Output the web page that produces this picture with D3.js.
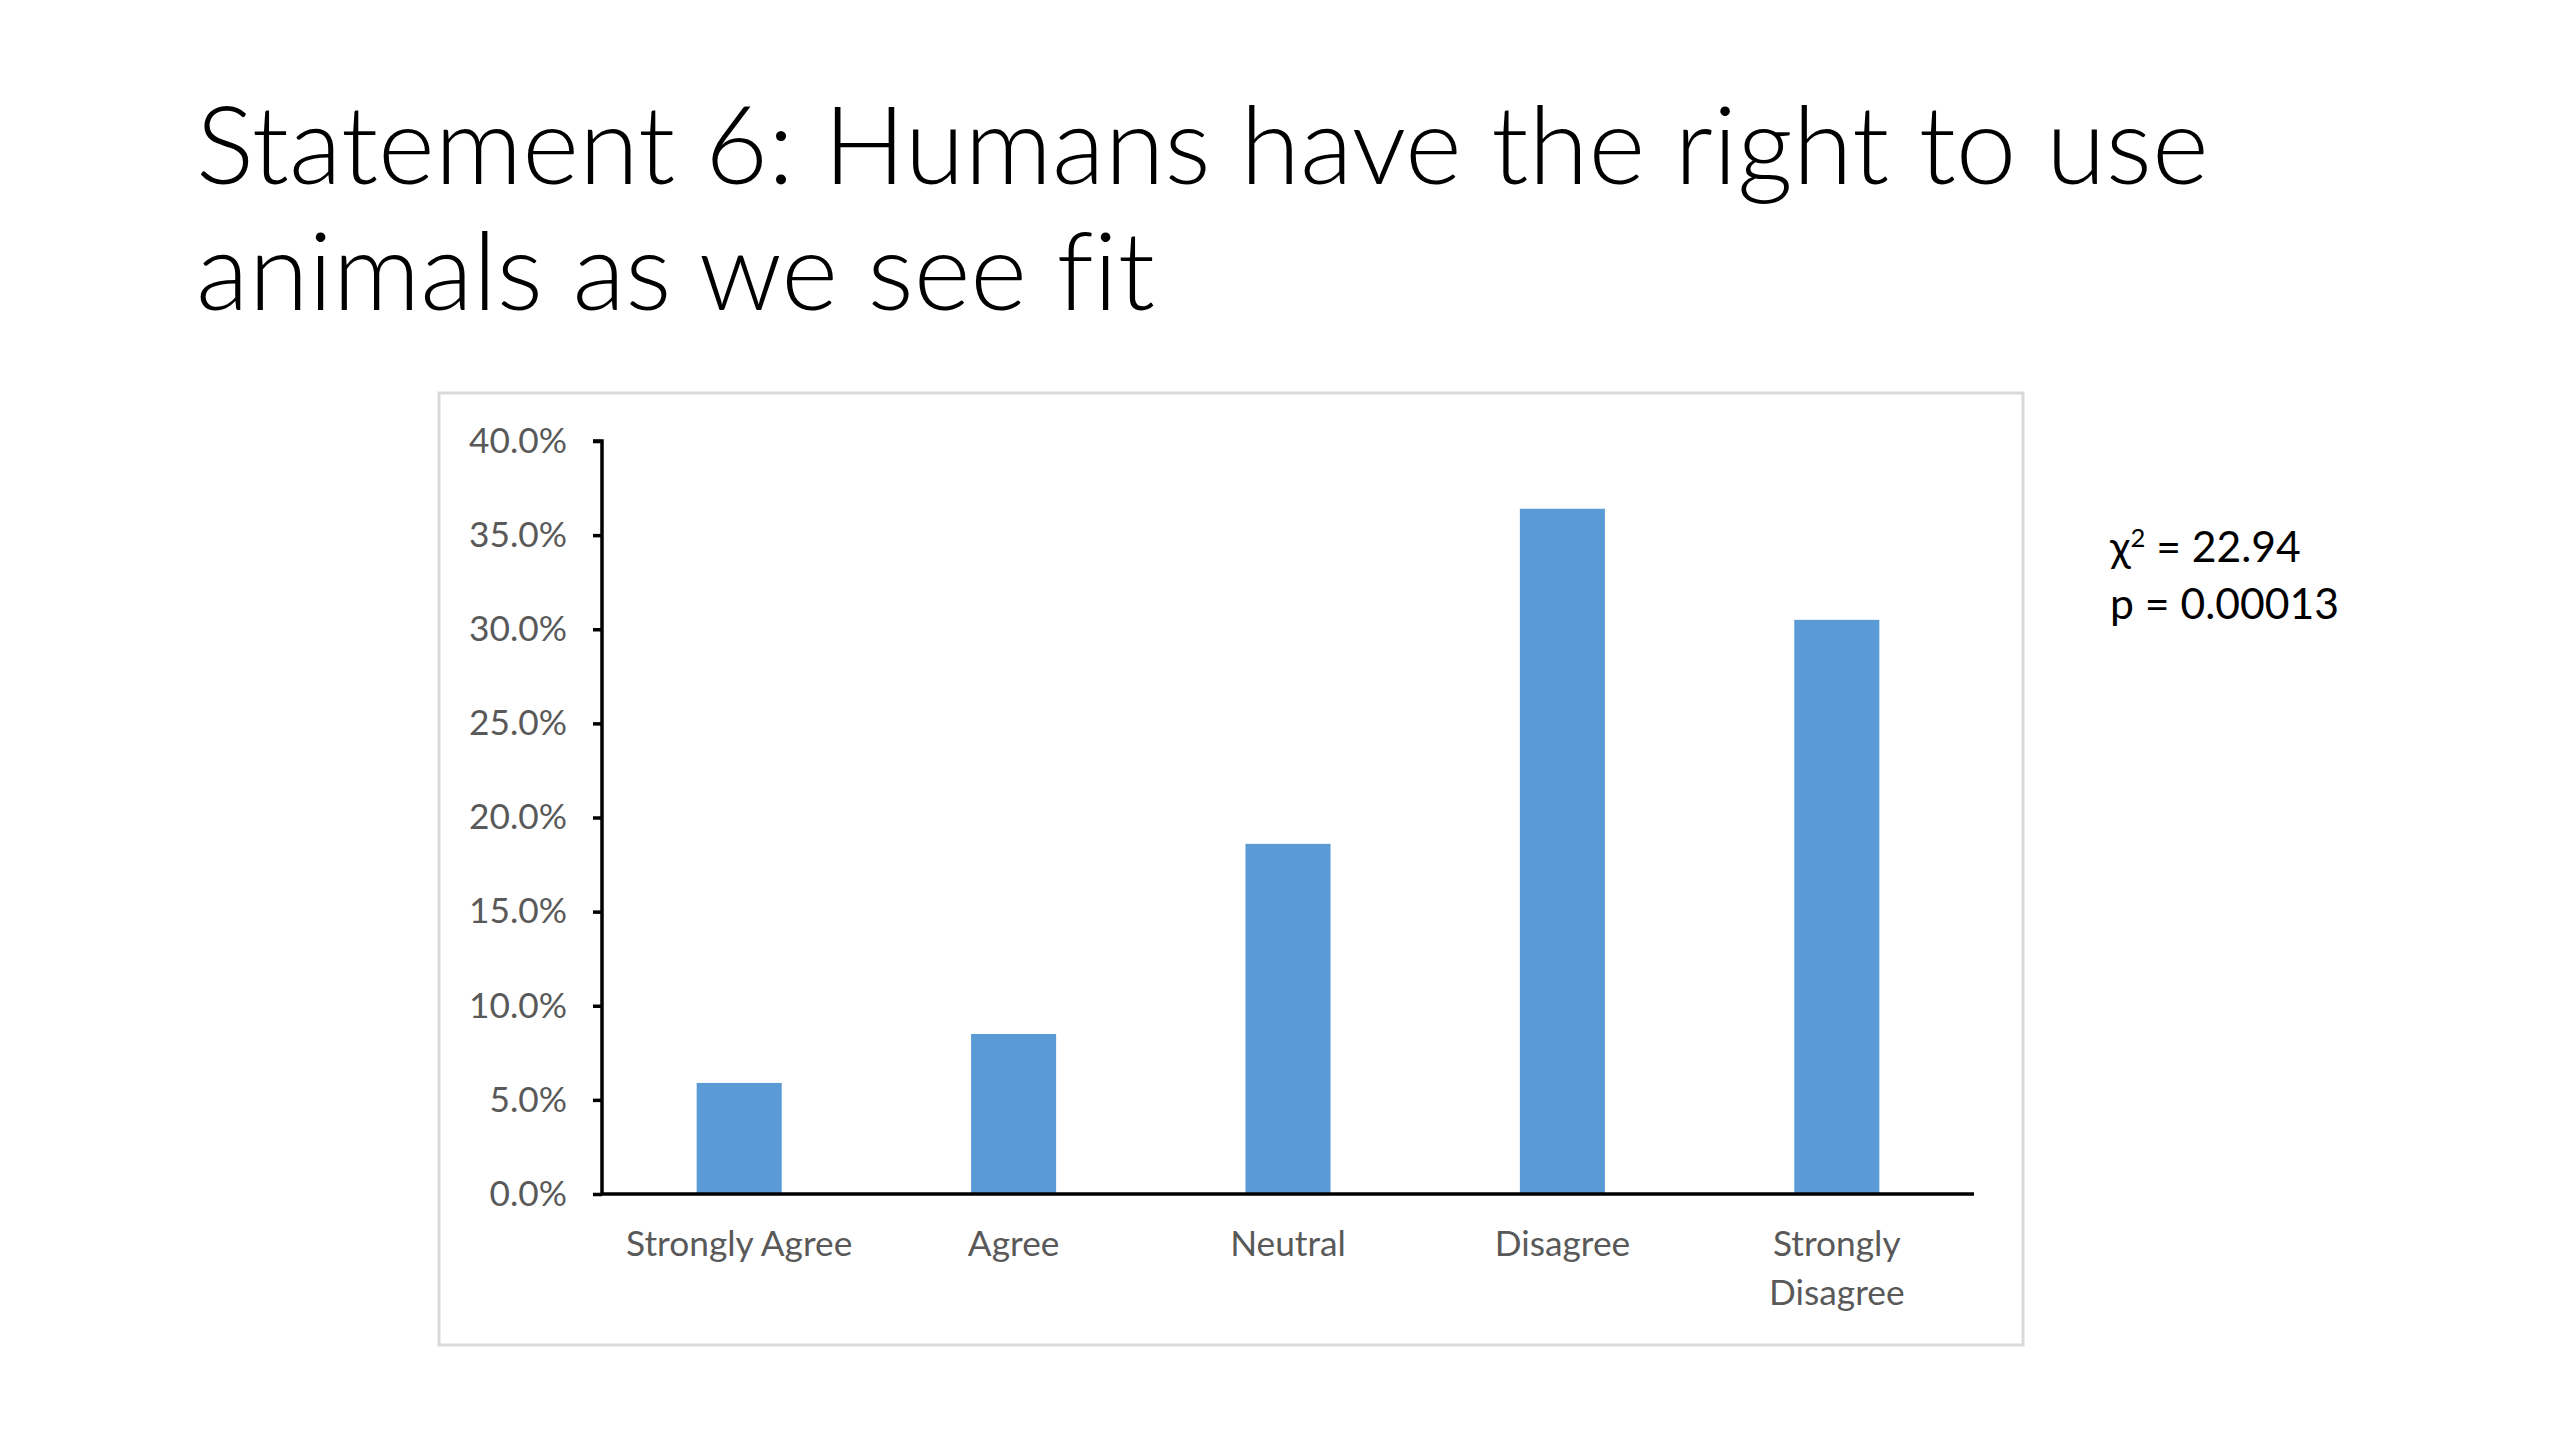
<!DOCTYPE html>
<html>
<head>
<meta charset="utf-8">
<script src="https://cdn.jsdelivr.net/npm/d3@7"></script>
<style>
  html, body { margin: 0; padding: 0; background: #ffffff; }
  svg { display: block; }
  text { font-variant-ligatures: none; font-feature-settings: "liga" 0; }
</style>
</head>
<body>
<script>
// ---- data ----
const titleLines = ["Statement 6: Humans have the right to use", "animals as we see fit"];
const categories = ["Strongly Agree", "Agree", "Neutral", "Disagree", "Strongly Disagree"];
const categoryLines = [["Strongly Agree"], ["Agree"], ["Neutral"], ["Disagree"], ["Strongly", "Disagree"]];
const values = [5.9, 8.5, 18.6, 36.4, 30.5];
const yTicks = [0, 5, 10, 15, 20, 25, 30, 35, 40];
const statLabel = "χ";
const statChi = " = 22.94";
const statP = "p = 0.00013";

// ---- layout ----
const W = 2560, H = 1440;
const FONT = "Lato, 'Open Sans', 'Noto Sans', sans-serif";
const svg = d3.select("body").append("svg").attr("width", W).attr("height", H);
svg.append("rect").attr("width", W).attr("height", H).attr("fill", "#fff");

function fitSize(text, weight, targetWidth) {
  const t = svg.append("text").attr("font-family", FONT).attr("font-weight", weight)
    .attr("font-size", 100).text(text);
  const w = t.node().getComputedTextLength();
  t.remove();
  return 100 * targetWidth / w;
}

// title
const titleSize = fitSize(titleLines[0], 300, 2013);
svg.append("g").selectAll("text").data(titleLines).join("text")
  .attr("x", 196)
  .attr("y", (d, i) => 184 + i * 126)
  .attr("font-family", FONT).attr("font-weight", 300)
  .attr("font-size", titleSize)
  .attr("fill", "#000")
  .text(d => d);

// chart frame
svg.append("rect").attr("x", 439).attr("y", 393).attr("width", 1584).attr("height", 952)
  .attr("fill", "#fff").attr("stroke", "#d9d9d9").attr("stroke-width", 3);

const x0 = 602, x1 = 1974, yBase = 1194, yTop = 441;
const x = d3.scaleBand().domain(categories).range([x0, x1]).paddingInner(0.69).paddingOuter(0.345);
const y = d3.scaleLinear().domain([0, 40]).range([yBase, yTop]);

const tickSize = fitSize("40.0%", 400, 98);

// bars
svg.append("g").selectAll("rect").data(values).join("rect")
  .attr("x", (d, i) => x(categories[i]))
  .attr("y", d => y(d))
  .attr("width", x.bandwidth())
  .attr("height", d => y(0) - y(d))
  .attr("fill", "#5b9bd5");

// y axis
const yAxis = d3.axisLeft(y).tickValues(yTicks).tickSize(9).tickPadding(26)
  .tickFormat(d => d.toFixed(1) + "%");
const gy = svg.append("g").attr("transform", `translate(${x0},0)`).call(yAxis);
gy.select(".domain").attr("stroke", "#000").attr("stroke-width", 3.5).attr("d", `M-9,${yTop}H0V${yBase}`);
gy.selectAll(".tick line").attr("stroke", "#000").attr("stroke-width", 3.5);
gy.selectAll(".tick text").attr("font-family", FONT).attr("font-size", tickSize).attr("fill", "#595959");

// x axis
const xAxis = d3.axisBottom(x).tickSize(0).tickFormat("");
const gx = svg.append("g").attr("transform", `translate(0,${yBase})`).call(xAxis);
gx.select(".domain").attr("stroke", "#000").attr("stroke-width", 3.5).attr("d", `M${x0},0H${x1}`);
gx.selectAll(".tick").each(function(d, i) {
  const t = d3.select(this).append("text")
    .attr("font-family", FONT).attr("font-size", tickSize).attr("fill", "#595959")
    .attr("text-anchor", "middle");
  t.selectAll("tspan").data(categoryLines[i]).join("tspan")
    .attr("x", 0).attr("y", (l, j) => 50 + j * 49 + tickSize * 0.35)
    .text(l => l);
});

// stats
const statSize = fitSize(statP, 400, 229);
const st = svg.append("text").attr("font-family", FONT).attr("font-size", statSize).attr("fill", "#000")
  .attr("x", 2110).attr("y", 547 + statSize * 0.35);
st.append("tspan").text(statLabel);
st.append("tspan").attr("font-size", statSize * 0.6).attr("dy", -statSize * 0.35).text("2");
st.append("tspan").attr("dy", statSize * 0.35).text(statChi);
svg.append("text").attr("font-family", FONT).attr("font-size", statSize).attr("fill", "#000")
  .attr("x", 2110).attr("y", 604 + statSize * 0.35).text(statP);
</script>
</body>
</html>
